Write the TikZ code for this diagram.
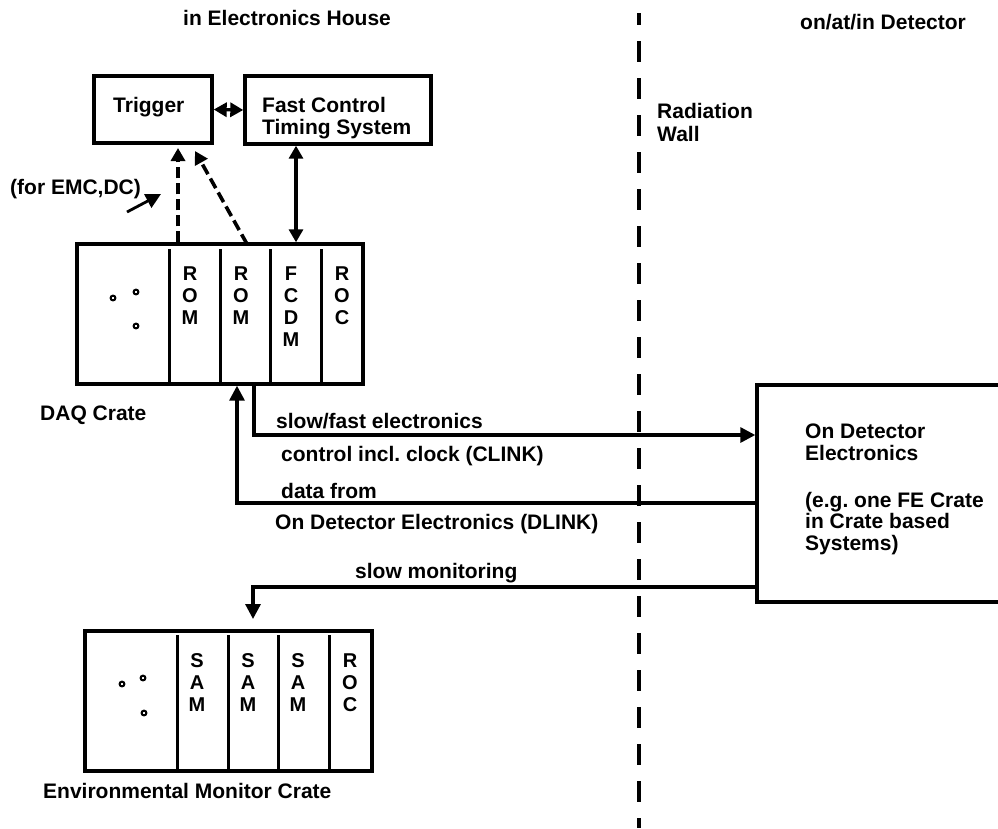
\documentclass[tikz,border=0pt]{standalone}
\usepackage{fontspec}
\setmainfont{Liberation Sans}
\usetikzlibrary{arrows.meta}
\newcommand\slotcol[4]{\foreach \l [count=\i from 0] in {#4} \node[slot] (#1-\i) at (#2,{#3+22*\i}) {\l};}
\begin{document}
\frenchspacing
\begin{tikzpicture}[x=1pt,y=-1pt,
  lw/.style={line width=3.2pt},
  box/.style={draw,line width=3.4pt,inner sep=0pt,rectangle},
  lbl/.style={font=\bfseries\fontsize{21}{24}\selectfont,inner sep=0pt,anchor=base west},
  slot/.style={font=\bfseries\fontsize{20}{22}\selectfont,inner sep=0pt,anchor=base},
  divider/.style={line width=3pt},
  hole/.style={line width=2pt},
  arr/.style={-{Triangle[length=15pt,width=15pt]}},
  darr/.style={{Triangle[length=13pt,width=14pt]}-{Triangle[length=13pt,width=14pt]}},
  dashline/.style={line width=3.6pt,dash pattern=on 11pt off 5pt,-{Triangle[length=13pt,width=14pt]}},
]
\useasboundingbox (0,0) rectangle (998,828);

% headings
\node[lbl] (h1) at (183,25) {in Electronics House};
\node[lbl] (h2) at (800,29) {on/at/in Detector};
\node[lbl] (rw1) at (657,118) {Radiation};
\node[lbl] (rw2) at (657,141) {Wall};

% radiation wall
\coordinate (w1) at (639,13);
\coordinate (w2) at (639,828);
\draw[line width=3.2pt,dash pattern=on 21pt off 16pt,dash phase=9pt] (w1) -- (w2);

% trigger and fast control
\node[box,minimum width=118pt,minimum height=67pt] (trig) at (153,109.5) {};
\node[lbl] (trigt) at (113,112) {Trigger};
\node[box,minimum width=186pt,minimum height=68pt] (fcts) at (338,110) {};
\node[lbl] (fctst1) at (262,112) {Fast Control};
\node[lbl] (fctst2) at (262,134) {Timing System};

% DAQ crate
\node[box,minimum width=286pt,minimum height=140pt] (daq) at (220,314) {};
\foreach \x in {169,220,270,321} \draw[divider] (\x,249) -- (\x,384);
\slotcol{romA}{190}{280}{R,O,M}
\slotcol{romB}{241}{280}{R,O,M}
\slotcol{fcdm}{291}{280}{F,C,D,M}
\slotcol{roc}{342}{280}{R,O,C}
\draw[hole] (113,298) circle (2.4pt);
\draw[hole] (136,292) circle (2.4pt);
\draw[hole] (136,326) circle (2.4pt);
\node[lbl] (daqt) at (40,420) {DAQ Crate};

% environmental monitor crate
\node[box,minimum width=287pt,minimum height=140pt] (env) at (228.5,701) {};
\foreach \x in {177,228,278,329} \draw[divider] (\x,635) -- (\x,771);
\slotcol{samA}{197}{667}{S,A,M}
\slotcol{samB}{248}{667}{S,A,M}
\slotcol{samC}{298}{667}{S,A,M}
\slotcol{rocB}{350}{667}{R,O,C}
\draw[hole] (122,684) circle (2.4pt);
\draw[hole] (143,678) circle (2.4pt);
\draw[hole] (144,713) circle (2.4pt);
\node[lbl] (envt) at (43,798) {Environmental Monitor Crate};

% on detector electronics
\node[box,minimum width=300pt,minimum height=217pt] (ode) at (907,493.5) {};
\node[lbl] (odet1) at (805,438) {On Detector};
\node[lbl] (odet2) at (805,460) {Electronics};
\node[lbl] (odet3) at (805,507) {(e.g. one FE Crate};
\node[lbl] (odet4) at (805,528) {in Crate based};
\node[lbl] (odet5) at (805,550) {Systems)};

% connectors top
\draw[lw,darr] (trig.east) -- (fcts.west);
\coordinate (fd) at (296,0);
\draw[lw,darr] (fcts.south -| fd) -- (daq.north -| fd);
\coordinate (d1e) at (178,148);
\draw[dashline] (daq.north -| d1e) -- (d1e);
\coordinate (d2s) at (247,244);
\coordinate (d2e) at (195,151);
\draw[dashline] (d2s) -- (d2e);
\node[lbl] (emc) at (10,194) {(for EMC,DC)};
\coordinate (emcA) at (127,212);
\coordinate (emcB) at (161,194);
\draw[line width=2.8pt,arr] (emcA) -- (emcB);

% links
\coordinate (sf) at (254,435);
\draw[lw,arr] (daq.south -| sf) -- (sf) -- (ode.west |- sf);
\coordinate (dl) at (237,503);
\draw[lw,arr] (ode.west |- dl) -- (dl) -- (daq.south -| dl);
\coordinate (sm) at (253,587);
\coordinate (smE) at (253,619);
\draw[lw,arr] (ode.west |- sm) -- (sm) -- (smE);

\node[lbl] (l1) at (276,428) {slow/fast electronics};
\node[lbl] (l2) at (281,461) {control incl. clock (CLINK)};
\node[lbl] (l3) at (281,498) {data from};
\node[lbl] (l4) at (275,529) {On Detector Electronics (DLINK)};
\node[lbl] (l5) at (355,578) {slow monitoring};
\end{tikzpicture}
\end{document}
